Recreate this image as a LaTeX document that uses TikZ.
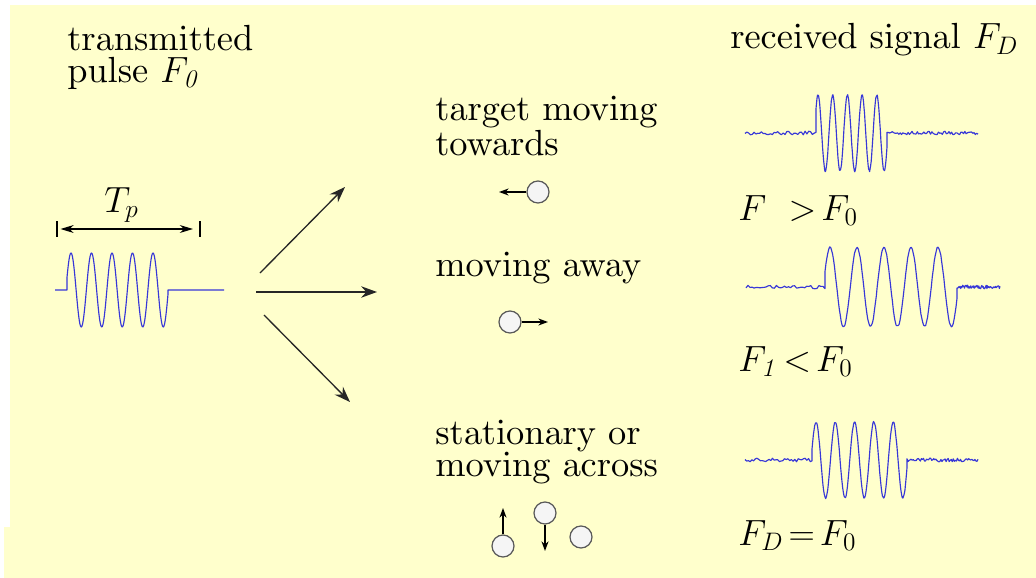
\documentclass[tikz,border=0pt]{standalone}
\usetikzlibrary{arrows.meta}
\definecolor{paper}{RGB}{255,255,204}
\definecolor{sigblue}{RGB}{55,55,215}
\font\labelrm=cmr10 at 20.7pt
\tikzset{
  lbl/.style    = {anchor=base west, align=left, inner sep=0pt,
                   font={\labelrm\fontsize{20.7}{18.1}\selectfont\labelrm}},
  rel/.style    = {lbl, font={\fontsize{20.7}{18}\selectfont\thickmuskip=2.5mu plus 1mu}},
  sig/.style    = {draw=sigblue, line width=0.65pt, line join=round},
  fan/.style    = {-{Stealth[length=9pt, width=6.5pt]}, line width=0.75pt, draw=black!85},
  span/.style   = {{Stealth[length=7.5pt, width=4.5pt]}-{Stealth[length=7.5pt, width=4.5pt]},
                   line width=0.6pt},
  tick/.style   = {line width=0.6pt},
  target/.style = {circle, draw=black!65, fill=black!4, line width=0.7pt,
                   minimum size=0.44cm, inner sep=0pt},
  mv/.style     = {-{Stealth[length=5.5pt, width=4pt]}, line width=0.7pt},
}
% noisy echo: baseline, x start, pulse start, first peak, period, pulse end, x end, amplitude
\newcommand{\rxsig}[8]{%
  \draw[sig] plot[domain=#2:#3, samples=40] (\x, {#1 + 1.8*rand})
    -- plot[domain=#3:#6, samples=140] (\x, {#1 - #8*cos(360/#5*(\x-#4)) + 0.8*rand})
    -- plot[domain=#6:#7, samples=70] (\x, {#1 + 1.8*rand});}

\begin{document}
\begin{tikzpicture}[x=0.02cm, y=-0.02cm]
  \useasboundingbox (0,0) rectangle (1036,578);
  \fill[paper] (10,5) -- (1036,5) -- (1036,578) -- (4,578) -- (4,527) -- (10,527) -- cycle;
  \pgfmathsetseed{7}

  % transmitted side
  \node[lbl] (tx) at (67,82)  {transmitted\\pulse $F_{\mathit{0}}$};
  \node[lbl] (tp) at (104,212) {$T_p$};
  \coordinate (tl) at (57,229);
  \coordinate (tr) at (200,229);
  \draw[tick] ([yshift=-0.16cm]tl) -- ([yshift=0.16cm]tl);
  \draw[tick] ([yshift=-0.16cm]tr) -- ([yshift=0.16cm]tr);
  \draw[span, shorten <=2pt, shorten >=4pt] (tl) -- (tr);
  \draw[sig] (55,290) -- (67,290)
    -- plot[domain=67:168, samples=150] (\x, {290 - 37*cos(360/20.5*(\x-71))})
    -- (168,290) -- (224,290);

  \coordinate (up0) at (260,273);  \coordinate (up1) at (345,187);
  \coordinate (st0) at (256,292);  \coordinate (st1) at (377,292);
  \coordinate (dn0) at (264,315);  \coordinate (dn1) at (350,402);
  \draw[fan] (up0) -- (up1);
  \draw[fan] (st0) -- (st1);
  \draw[fan] (dn0) -- (dn1);

  % targets
  \node[lbl] (towards) at (435,155) {target moving\\towards};
  \node[target] (tw) at (538,192) {};
  \coordinate (twend) at (499,192);
  \draw[mv] (tw) -- (twend);

  \node[lbl] (away) at (435,276) {moving away};
  \node[target] (aw) at (510,322) {};
  \coordinate (awend) at (548,322);
  \draw[mv] (aw) -- (awend);

  \node[lbl] (across) at (435,476) {stationary or\\moving across};
  \node[target] (ac1) at (503,546) {};
  \node[target] (ac2) at (545,513) {};
  \node[target] (ac3) at (581,537) {};
  \coordinate (ac1end) at (503,508);
  \coordinate (ac2end) at (545,551);
  \draw[mv] (ac1) -- (ac1end);
  \draw[mv] (ac2) -- (ac2end);

  % received side
  \node[lbl] (rx) at (730,49) {received signal $F_{D}$};
  \rxsig{133}{745}{816}{818}{14.7}{887}{978}{38}
  \node[rel] (lo) at (738,220) {$F_{\phantom{D}} > F_0$};
  \rxsig{287}{746}{825}{830}{27}{957}{1000}{39.5}
  \node[rel] (hi) at (738,371) {$F_{\mathit{1}} < F_0$};
  \rxsig{460}{745}{812}{816}{19.3}{907}{978}{38}
  \node[rel] (eq) at (738,545) {$F_D = F_0$};
\end{tikzpicture}
\end{document}
